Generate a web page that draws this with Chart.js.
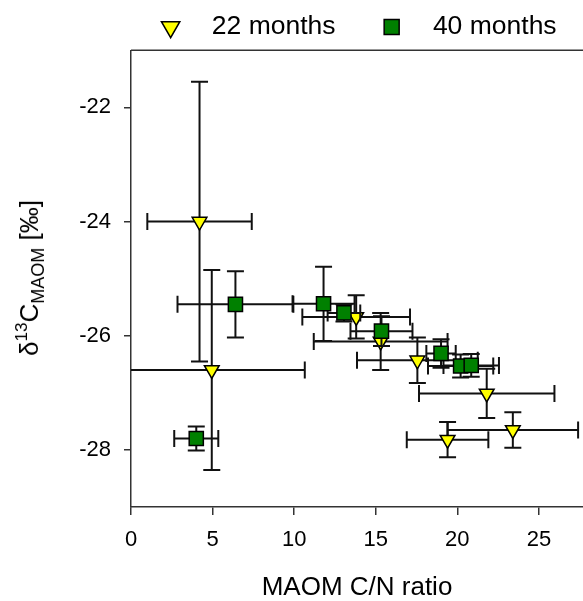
<!DOCTYPE html>
<html>
<head>
<meta charset="utf-8">
<script src="https://cdn.jsdelivr.net/npm/chart.js@4/dist/chart.umd.min.js"></script>
<style>
  html, body { margin: 0; padding: 0; background: #ffffff; }
  #wrap { position: relative; width: 583px; height: 601px; }
  #ytitle {
    position: absolute; left: 29px; top: 278px;
    transform: translate(-50%, -50%) rotate(-90deg);
    font-family: "Liberation Sans", Arial, sans-serif; font-size: 26px;
    white-space: nowrap; color: #000; line-height: 1;
  }
  #ytitle .sup { font-size: 17px; position: relative; top: -11px; }
  #ytitle .sub { font-size: 18px; position: relative; top: 6px; }
</style>
</head>
<body>
<div id="wrap">
  <canvas id="c" width="583" height="601"></canvas>
  <div id="ytitle">δ<span class="sup">13</span>C<span class="sub">MAOM</span> [‰]</div>
</div>
<script>
// ---- data ----
const xTicks = [0, 5, 10, 15, 20, 25];
const yTicks = [-22, -24, -26, -28];
const seriesNames = ['22 months', '40 months'];

// 22 months (yellow triangles)
const x22  = [4.2, 4.95, 13.8, 15.3, 17.55, 21.8, 19.4, 23.4];
const y22  = [-24.0, -26.6, -25.67, -26.1, -26.43, -27.01, -27.82, -27.65];
const xe22 = [3.2, 5.7, 3.3, 4.1, 3.7, 4.15, 2.5, 4.0];
const ye22 = [2.45, 1.75, 0.38, 0.5, 0.4, 0.43, 0.31, 0.31];

// 40 months (green squares)
const x40  = [4.0, 6.4, 11.8, 13.05, 15.35, 19.0, 20.2, 20.85];
const y40  = [-27.8, -25.45, -25.44, -25.6, -25.92, -26.31, -26.53, -26.52];
const xe40 = [1.35, 3.55, 1.9, 1.0, 1.9, 0.9, 2.0, 1.7];
const ye40 = [0.21, 0.58, 0.65, 0.15, 0.26, 0.25, 0.2, 0.2];

const FONT = '"Liberation Sans", Arial, sans-serif';

function pts(xs, ys, xes, yes) {
  return xs.map((x, i) => ({ x: x, y: ys[i], xe: xes[i], ye: yes[i] }));
}

// error bars drawn through the chart scales, just before each dataset's markers
const errorBars = {
  id: 'errorBars',
  beforeDatasetDraw(chart, args) {
    const ds = chart.data.datasets[args.index];
    const xs = chart.scales.x, ys = chart.scales.y;
    const ctx = chart.ctx, a = chart.chartArea;
    const cap = 8.5;
    ctx.save();
    ctx.beginPath();
    ctx.rect(a.left, a.top, a.right - a.left, a.bottom - a.top);
    ctx.clip();
    ctx.strokeStyle = '#111';
    ctx.lineWidth = 2;
    ds.data.forEach(p => {
      const cx = xs.getPixelForValue(p.x), cy = ys.getPixelForValue(p.y);
      const x0 = xs.getPixelForValue(p.x - p.xe), x1 = xs.getPixelForValue(p.x + p.xe);
      const y0 = ys.getPixelForValue(p.y + p.ye), y1 = ys.getPixelForValue(p.y - p.ye);
      ctx.beginPath();
      ctx.moveTo(x0, cy); ctx.lineTo(x1, cy);
      ctx.moveTo(x0, cy - cap); ctx.lineTo(x0, cy + cap);
      ctx.moveTo(x1, cy - cap); ctx.lineTo(x1, cy + cap);
      ctx.moveTo(cx, y0); ctx.lineTo(cx, y1);
      ctx.moveTo(cx - cap, y0); ctx.lineTo(cx + cap, y0);
      ctx.moveTo(cx - cap, y1); ctx.lineTo(cx + cap, y1);
      ctx.stroke();
    });
    ctx.restore();
  }
};

// top frame line of the plot box
const frame = {
  id: 'frame',
  beforeDatasetsDraw(chart) {
    const ctx = chart.ctx, a = chart.chartArea;
    ctx.save();
    ctx.strokeStyle = '#333';
    ctx.lineWidth = 1.5;
    ctx.beginPath();
    ctx.moveTo(a.left, a.top);
    ctx.lineTo(a.right, a.top);
    ctx.stroke();
    ctx.restore();
  }
};

const axisGrid = { drawOnChartArea: false, drawTicks: true, tickLength: 7, color: '#333', lineWidth: 1.5 };

new Chart(document.getElementById('c'), {
  type: 'scatter',
  data: {
    datasets: [
      {
        label: seriesNames[0],
        data: pts(x22, y22, xe22, ye22),
        pointStyle: 'triangle',
        pointRotation: 180,
        pointRadius: 8.5,
        pointHoverRadius: 8.5,
        backgroundColor: '#ffff00',
        borderColor: '#000000',
        borderWidth: 1.5,
        order: 1
      },
      {
        label: seriesNames[1],
        data: pts(x40, y40, xe40, ye40),
        pointStyle: 'rect',
        pointRadius: 10,
        pointHoverRadius: 10,
        backgroundColor: '#008000',
        borderColor: '#000000',
        borderWidth: 1.5,
        order: 0
      }
    ]
  },
  options: {
    responsive: false,
    animation: false,
    layout: { autoPadding: false, padding: { top: 7.8, left: 0, right: 0, bottom: 0 } },
    plugins: {
      tooltip: { enabled: false },
      legend: {
        display: true,
        position: 'top',
        fullSize: false,
        align: 'center',
        labels: {
          usePointStyle: true,
          boxWidth: 26.5,
          boxHeight: 15,
          padding: 6,
          color: '#000',
          font: { size: 26.5, family: FONT },
          sort: (a, b) => a.datasetIndex - b.datasetIndex,
          generateLabels: (chart) => {
            const items = Chart.defaults.plugins.legend.labels.generateLabels(chart);
            items.forEach(it => {
              it.text = it.datasetIndex === 0 ? '  ' + it.text + '     ' : '  ' + it.text;
            });
            return items;
          }
        }
      }
    },
    scales: {
      x: {
        type: 'linear',
        min: 0,
        max: 27.7,
        afterBuildTicks: s => { s.ticks = xTicks.map(v => ({ value: v })); },
        afterFit: s => { s.height = 94; s.paddingLeft = 0; s.paddingRight = 0; },
        ticks: { color: '#000', font: { size: 22, family: FONT }, padding: 12, maxRotation: 0, autoSkip: false },
        grid: Object.assign({}, axisGrid, { tickLength: 8 }),
        border: { display: true, color: '#333', width: 1.5 },
        title: { display: true, text: 'MAOM C/N ratio', color: '#000', font: { size: 26, family: FONT, lineHeight: 1 }, padding: { top: 0, bottom: 0 } }
      },
      y: {
        type: 'linear',
        min: -29,
        max: -21,
        afterBuildTicks: s => { s.ticks = yTicks.map(v => ({ value: v })); },
        afterFit: s => { s.width = 131; s.paddingTop = 0; s.paddingBottom = 0; },
        ticks: { color: '#000', font: { size: 22, family: FONT }, padding: 13, autoSkip: false },
        grid: axisGrid,
        border: { display: true, color: '#333', width: 1.5 },
        title: { display: false }
      }
    }
  },
  plugins: [errorBars, frame]
});
</script>
</body>
</html>
